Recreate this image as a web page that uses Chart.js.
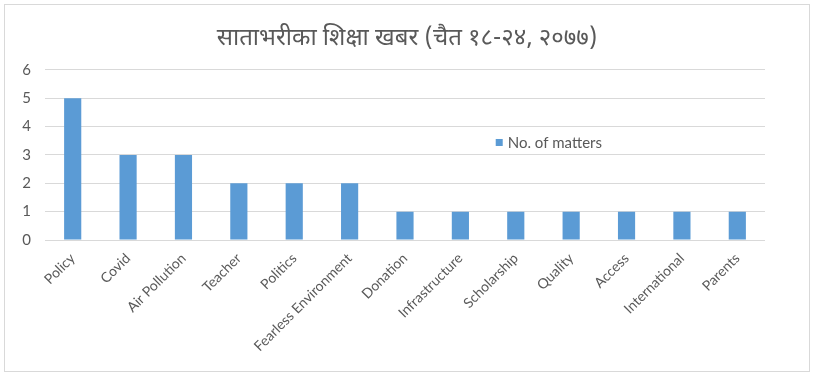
<!DOCTYPE html>
<html>
<head>
<meta charset="utf-8">
<script src="https://cdn.jsdelivr.net/npm/chart.js@4.4.1/dist/chart.umd.min.js"></script>
<style>
  html, body { margin: 0; padding: 0; background: #fff; }
  #wrap { position: relative; width: 814px; height: 378px; }
  #frame { position: absolute; left: 4px; top: 4px; width: 804px; height: 366px;
           border: 1px solid #d9d9d9; pointer-events: none; }
  canvas { display: block; }
</style>
</head>
<body>
<div id="wrap">
  <canvas id="chart" width="814" height="378"></canvas>
  <div id="frame"></div>
</div>
<script>
// Chart data
const categories = ['Policy', 'Covid', 'Air Pollution', 'Teacher', 'Politics', 'Fearless Environment',
  'Donation', 'Infrastructure', 'Scholarship', 'Quality', 'Access', 'International', 'Parents'];
const matters = [5, 3, 3, 2, 2, 2, 1, 1, 1, 1, 1, 1, 1];
const seriesName = 'No. of matters';
const yTicks = [0, 1, 2, 3, 4, 5, 6];
const chartTitle = 'साताभरीका शिक्षा खबर (चैत १८-२४, २०७७)';

const BAR_COLOR = '#5b9bd5';
const TEXT_COLOR = '#595959';
const GRID_COLOR = '#d9d9d9';
const FONT = "Lato, 'Open Sans', 'Liberation Sans', sans-serif";

// legend drawn inside the plot area, like the original
const innerLegend = {
  id: 'innerLegend',
  afterDraw(chart) {
    const { ctx, chartArea } = chart;
    const x = chartArea.left + chartArea.width * 0.626;
    const y = chartArea.top + chartArea.height * 0.43;
    ctx.save();
    ctx.fillStyle = BAR_COLOR;
    ctx.fillRect(x, y - 4, 7, 7);
    ctx.fillStyle = TEXT_COLOR;
    ctx.font = '15px ' + FONT;
    ctx.textBaseline = 'middle';
    ctx.fillText(chart.data.datasets[0].label, x + 12, y);
    ctx.restore();
  }
};

new Chart(document.getElementById('chart'), {
  type: 'bar',
  data: {
    labels: categories,
    datasets: [{
      label: seriesName,
      data: matters,
      backgroundColor: BAR_COLOR,
      barPercentage: 0.31,
      categoryPercentage: 1
    }]
  },
  options: {
    responsive: false,
    animation: false,
    layout: { padding: 0 },
    plugins: {
      legend: { display: false },
      tooltip: { enabled: false },
      title: {
        display: true,
        text: chartTitle,
        color: TEXT_COLOR,
        font: { family: "'Noto Sans Devanagari', 'Noto Sans', 'DejaVu Sans', sans-serif", size: 24, weight: 'normal' },
        padding: { top: 26, bottom: 15 }
      }
    },
    scales: {
      x: {
        grid: { display: false },
        border: { display: false },
        ticks: {
          color: TEXT_COLOR,
          font: { family: FONT, size: 14 },
          minRotation: 45,
          maxRotation: 45,
          autoSkip: false,
          padding: 2
        },
        afterFit(scale) { scale.height = 138; }
      },
      y: {
        min: 0,
        max: 6,
        afterBuildTicks(scale) { scale.ticks = yTicks.map(v => ({ value: v })); },
        grid: { color: GRID_COLOR, drawTicks: false },
        border: { display: false },
        ticks: {
          color: TEXT_COLOR,
          font: { family: FONT, size: 15 },
          padding: 14
        },
        afterFit(scale) { scale.width = 45; }
      },
      // empty right margin so the title stays centred on the whole canvas
      gap: {
        type: 'linear',
        position: 'right',
        grid: { display: false },
        border: { display: false },
        ticks: { display: false },
        afterFit(scale) { scale.width = 49; }
      }
    }
  },
  plugins: [innerLegend]
});
</script>
</body>
</html>
